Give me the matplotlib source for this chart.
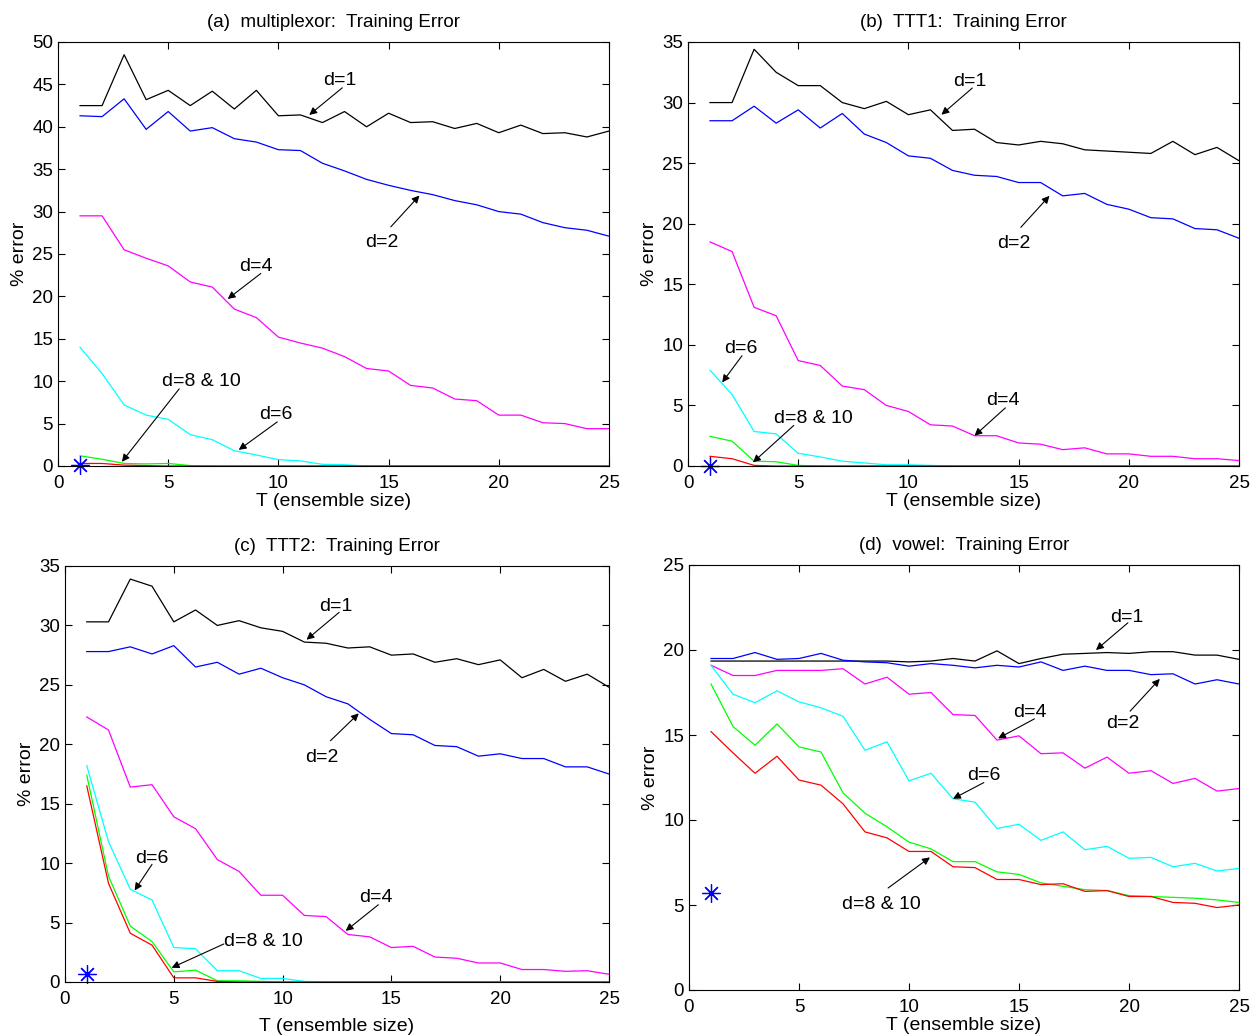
import numpy as np
import matplotlib.pyplot as plt

plt.rcParams['font.family'] = ['Liberation Sans', 'DejaVu Sans']

T = np.arange(1, 26)

# (a) multiplexor
mux_d1 = [42.5, 42.5, 48.5, 43.2, 44.3, 42.5, 44.2, 42.1, 44.3, 41.3, 41.4, 40.5, 41.8,
          40.0, 41.6, 40.5, 40.6, 39.8, 40.4, 39.3, 40.2, 39.2, 39.3, 38.8, 39.5]
mux_d2 = [41.3, 41.2, 43.3, 39.7, 41.8, 39.5, 39.9, 38.6, 38.2, 37.3, 37.2, 35.7, 34.8,
          33.8, 33.1, 32.5, 32.0, 31.3, 30.8, 30.0, 29.7, 28.7, 28.1, 27.8, 27.1]
mux_d4 = [29.5, 29.5, 25.5, 24.5, 23.6, 21.7, 21.1, 18.5, 17.5, 15.2, 14.5, 13.9, 12.9,
          11.5, 11.2, 9.5, 9.2, 7.9, 7.7, 6.0, 6.0, 5.1, 5.0, 4.4, 4.4]
mux_d6 = [14.0, 10.9, 7.2, 6.0, 5.5, 3.7, 3.1, 1.8, 1.3, 0.75, 0.6, 0.2, 0.15,
          0, 0, 0, 0, 0, 0, 0, 0, 0, 0, 0, 0]
mux_d8 = [1.2, 0.8, 0.3, 0.25, 0.3, 0.05, 0, 0, 0, 0, 0, 0, 0,
          0, 0, 0, 0, 0, 0, 0, 0, 0, 0, 0, 0]
mux_d10 = [0.3, 0.3, 0.1, 0.05, 0, 0, 0, 0, 0, 0, 0, 0, 0,
           0, 0, 0, 0, 0, 0, 0, 0, 0, 0, 0, 0]
mux_star = 0.1

# (b) TTT1
ttt1_d1 = [30.0, 30.0, 34.4, 32.5, 31.4, 31.4, 30.0, 29.5, 30.1, 29.0, 29.4, 27.7, 27.8,
           26.7, 26.5, 26.8, 26.6, 26.1, 26.0, 25.9, 25.8, 26.8, 25.7, 26.3, 25.2]
ttt1_d2 = [28.5, 28.5, 29.7, 28.3, 29.4, 27.9, 29.1, 27.4, 26.7, 25.6, 25.4, 24.4, 24.0,
           23.9, 23.4, 23.4, 22.3, 22.5, 21.6, 21.2, 20.5, 20.4, 19.6, 19.5, 18.8]
ttt1_d4 = [18.5, 17.7, 13.1, 12.4, 8.7, 8.3, 6.6, 6.3, 5.0, 4.5, 3.4, 3.3, 2.5,
           2.5, 1.9, 1.8, 1.35, 1.5, 1.0, 1.0, 0.8, 0.8, 0.6, 0.6, 0.45]
ttt1_d6 = [7.9, 5.9, 2.85, 2.65, 1.05, 0.75, 0.4, 0.25, 0.1, 0.1, 0.05, 0, 0,
           0, 0, 0, 0, 0, 0, 0, 0, 0, 0, 0, 0]
ttt1_d8 = [2.45, 2.05, 0.4, 0.35, 0.05, 0, 0, 0, 0, 0, 0, 0, 0,
           0, 0, 0, 0, 0, 0, 0, 0, 0, 0, 0, 0]
ttt1_d10 = [0.8, 0.6, 0.05, 0, 0, 0, 0, 0, 0, 0, 0, 0, 0,
            0, 0, 0, 0, 0, 0, 0, 0, 0, 0, 0, 0]
ttt1_star = 0.0

# (c) TTT2
ttt2_d1 = [30.3, 30.3, 33.9, 33.3, 30.3, 31.3, 30.0, 30.4, 29.8, 29.5, 28.6, 28.5, 28.1,
           28.2, 27.5, 27.6, 26.9, 27.2, 26.7, 27.1, 25.6, 26.3, 25.3, 25.9, 24.8]
ttt2_d2 = [27.8, 27.8, 28.2, 27.6, 28.3, 26.5, 26.9, 25.9, 26.4, 25.6, 25.0, 24.0, 23.4,
           22.1, 20.9, 20.8, 19.9, 19.8, 19.0, 19.2, 18.8, 18.8, 18.1, 18.1, 17.5]
ttt2_d4 = [22.3, 21.2, 16.4, 16.6, 13.9, 12.9, 10.3, 9.3, 7.3, 7.3, 5.6, 5.5, 4.0,
           3.8, 2.9, 3.0, 2.1, 2.0, 1.6, 1.6, 1.05, 1.05, 0.9, 0.95, 0.65]
ttt2_d6 = [18.2, 11.8, 7.8, 6.9, 2.9, 2.8, 0.95, 0.95, 0.3, 0.3, 0.05, 0, 0,
           0, 0, 0, 0, 0, 0, 0, 0, 0, 0, 0, 0]
ttt2_d8 = [17.4, 8.9, 4.7, 3.4, 0.85, 1.0, 0.1, 0.1, 0.05, 0, 0, 0, 0,
           0, 0, 0, 0, 0, 0, 0, 0, 0, 0, 0, 0]
ttt2_d10 = [16.5, 8.3, 4.1, 3.1, 0.35, 0.35, 0.05, 0, 0, 0, 0, 0, 0,
            0, 0, 0, 0, 0, 0, 0, 0, 0, 0, 0, 0]
ttt2_star = 0.65

# (d) vowel
vow_d1 = [19.35, 19.35, 19.35, 19.35, 19.35, 19.35, 19.35, 19.35, 19.35, 19.3, 19.35, 19.5, 19.35,
          19.95, 19.2, 19.5, 19.75, 19.8, 19.85, 19.8, 19.9, 19.9, 19.7, 19.7, 19.45]
vow_d2 = [19.5, 19.5, 19.85, 19.45, 19.5, 19.8, 19.4, 19.3, 19.25, 19.05, 19.2, 19.1, 18.95,
          19.1, 19.0, 19.3, 18.8, 19.05, 18.8, 18.8, 18.55, 18.6, 18.0, 18.25, 18.0]
vow_d4 = [19.1, 18.5, 18.5, 18.8, 18.8, 18.8, 18.9, 18.0, 18.4, 17.4, 17.5, 16.2, 16.15,
          14.7, 14.95, 13.9, 13.95, 13.05, 13.7, 12.75, 12.9, 12.15, 12.45, 11.7, 11.85]
vow_d6 = [19.1, 17.4, 16.9, 17.6, 16.95, 16.6, 16.1, 14.1, 14.6, 12.3, 12.75, 11.25, 11.05,
          9.5, 9.75, 8.8, 9.3, 8.25, 8.45, 7.75, 7.8, 7.25, 7.45, 7.0, 7.15]
vow_d8 = [18.0, 15.5, 14.4, 15.65, 14.3, 14.0, 11.6, 10.4, 9.6, 8.7, 8.3, 7.55, 7.55,
          6.95, 6.8, 6.3, 6.1, 5.9, 5.85, 5.55, 5.5, 5.45, 5.4, 5.3, 5.15]
vow_d10 = [15.2, 13.95, 12.75, 13.75, 12.35, 12.05, 10.95, 9.3, 8.95, 8.15, 8.15, 7.25, 7.2,
           6.5, 6.5, 6.2, 6.25, 5.8, 5.85, 5.5, 5.5, 5.15, 5.1, 4.85, 5.0]
vow_star = 5.7

titles = ['(a)  multiplexor:  Training Error', '(b)  TTT1:  Training Error',
          '(c)  TTT2:  Training Error', '(d)  vowel:  Training Error']
ymaxes = [50, 35, 35, 25]
colors = ['#000000', '#0000ff', '#ff00ff', '#00ffff', '#00ff00', '#ff0000']

panels = [
    [mux_d1, mux_d2, mux_d4, mux_d6, mux_d8, mux_d10],
    [ttt1_d1, ttt1_d2, ttt1_d4, ttt1_d6, ttt1_d8, ttt1_d10],
    [ttt2_d1, ttt2_d2, ttt2_d4, ttt2_d6, ttt2_d8, ttt2_d10],
    [vow_d1, vow_d2, vow_d4, vow_d6, vow_d8, vow_d10],
]
stars = [mux_star, ttt1_star, ttt2_star, vow_star]

# annotations: (label, text x, text y, arrow tail, arrow head)
notes = [
    [('d=1', 12.8, 45.5, (12.9, 44.6), (11.4, 41.4)),
     ('d=2', 14.7, 26.3, (15.1, 28.2), (16.4, 31.9)),
     ('d=4', 9.0, 23.5, (9.2, 22.7), (7.7, 19.7)),
     ('d=6', 9.9, 6.1, (9.95, 5.2), (8.2, 1.9)),
     ('d=8 & 10', 6.5, 10.0, (5.5, 9.1), (2.9, 0.5))],
    [('d=1', 12.8, 31.7, (12.9, 31.2), (11.5, 29.0)),
     ('d=2', 14.8, 18.4, (15.1, 19.7), (16.4, 22.3)),
     ('d=4', 14.3, 5.4, (14.4, 4.8), (13.0, 2.5)),
     ('d=6', 2.4, 9.7, (2.45, 9.1), (1.55, 6.9)),
     ('d=8 & 10', 5.7, 3.9, (4.8, 3.35), (2.95, 0.3))],
    [('d=1', 12.45, 31.6, (12.6, 31.1), (11.1, 28.8)),
     ('d=2', 11.8, 18.9, (12.2, 20.3), (13.5, 22.6)),
     ('d=4', 14.3, 7.1, (14.4, 6.5), (12.9, 4.3)),
     ('d=6', 4.0, 10.4, (4.0, 9.9), (3.2, 7.7)),
     ('d=8 & 10', 9.1, 3.4, (7.3, 3.2), (4.9, 1.2))],
    [('d=1', 19.9, 21.9, (19.95, 21.6), (18.5, 20.0)),
     ('d=2', 19.7, 15.65, (20.05, 16.4), (21.4, 18.3)),
     ('d=4', 15.5, 16.35, (15.7, 15.95), (14.05, 14.8)),
     ('d=6', 13.4, 12.6, (13.4, 12.2), (12.0, 11.25)),
     ('d=8 & 10', 8.75, 5.05, (9.05, 6.0), (10.95, 7.8))],
]

W, H = 1252, 1036
# axes boxes in pixels: left, right, top, bottom
boxes = [(58, 609, 42, 466), (688, 1239, 42, 466),
         (65, 609, 566, 982), (689, 1239, 565, 990)]
xlabel_pad = [1, 1, 7, 1]

fig = plt.figure(figsize=(W / 100, H / 100), dpi=100)

for i in range(4):
    l, r, t, b = boxes[i]
    ax = fig.add_axes([l / W, 1 - b / H, (r - l) / W, (b - t) / H])
    for y, c in zip(panels[i], colors):
        ax.plot(T, y, color=c, lw=0.9, clip_on=False)
    ax.plot([1], [stars[i]], marker=(8, 2, 0), color='#0000ff', ms=13, mew=0.9,
            ls='none', clip_on=False)
    for lab, tx, ty, tail, head in notes[i]:
        ax.annotate('', xy=head, xytext=tail,
                    arrowprops=dict(arrowstyle='-|>', color='k', lw=0.8,
                                    mutation_scale=11, shrinkA=0, shrinkB=0))
        ax.text(tx, ty, lab, ha='center', va='center', fontsize=14)
    ax.set_xlim(0, 25)
    ax.set_ylim(0, ymaxes[i])
    ax.set_xticks(range(0, 26, 5))
    ax.set_yticks(range(0, ymaxes[i] + 1, 5))
    ax.tick_params(direction='in', top=True, right=True, labelsize=13.5,
                   length=5, width=0.8)
    ax.tick_params(axis='x', pad=6.5)
    ax.tick_params(axis='y', pad=3.5)
    for s in ax.spines.values():
        s.set_linewidth(0.8)
    ax.set_title(titles[i], fontsize=13.5, pad=11)
    ax.set_xlabel('T (ensemble size)', fontsize=14, labelpad=xlabel_pad[i])
    ax.set_ylabel('% error', fontsize=14, labelpad=3)

fig.savefig('out.png', dpi=100)
